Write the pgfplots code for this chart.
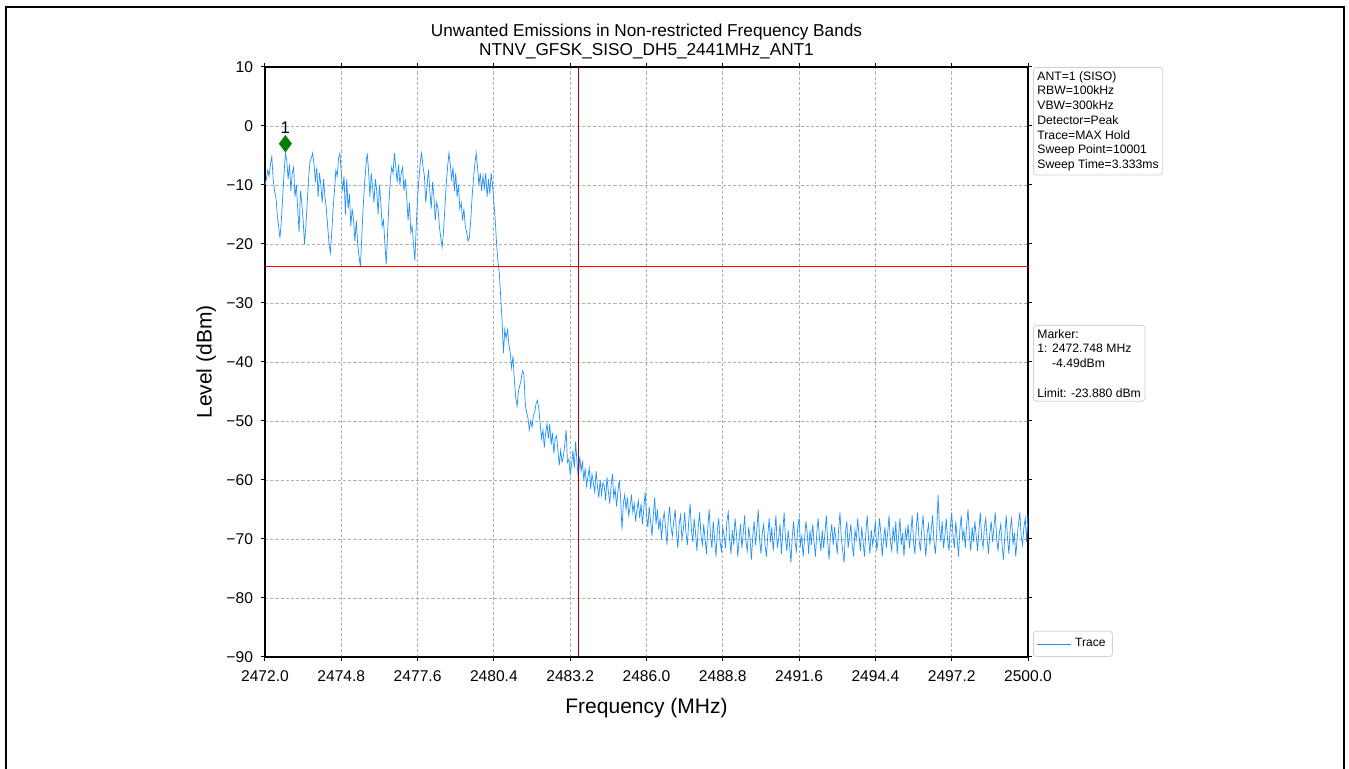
\documentclass[border=0pt]{standalone}
\usepackage{fontspec}
\setmainfont{Liberation Sans}
\usepackage{pgfplots}
\usepackage{pgfplotstable}
\pgfplotsset{compat=1.18}
\definecolor{tracec}{RGB}{30,144,255}
\definecolor{mkgreen}{RGB}{0,128,0}
\definecolor{gridc}{RGB}{176,176,176}

% trace level (dBm), sampled every 0.05 MHz from 2472.00 MHz
\pgfplotstableread[row sep=\\]{
y\\
-10\\ -9\\ -7.5\\ -8.5\\ -6.5\\ -5.2\\ -9\\ -11\\ -12\\ -15\\
-17\\ -19\\ -16\\ -12\\ -8\\ -4.5\\ -6\\ -9\\ -6.5\\ -11\\
-8\\ -7\\ -12\\ -10\\ -14\\ -18\\ -11\\ -13\\ -16\\ -20\\
-17\\ -13\\ -9\\ -6\\ -5.5\\ -4.6\\ -6.5\\ -9.5\\ -7\\ -12\\
-8\\ -10\\ -13\\ -9\\ -12\\ -14\\ -17\\ -20\\ -21.5\\ -18\\
-14\\ -11\\ -7.5\\ -8.5\\ -5.5\\ -4.6\\ -8\\ -11\\ -8.5\\ -15\\
-9\\ -14\\ -11.5\\ -17\\ -14\\ -16\\ -19.5\\ -16\\ -20\\ -22\\
-23.8\\ -19\\ -14\\ -10\\ -7\\ -4.6\\ -7.5\\ -12\\ -8\\ -10.5\\
-13\\ -9\\ -11\\ -15\\ -10\\ -13\\ -17\\ -16\\ -20\\ -23.5\\
-18\\ -13\\ -9\\ -7\\ -8\\ -4.6\\ -7\\ -9.5\\ -6.5\\ -10\\
-8\\ -7\\ -11\\ -9\\ -12\\ -16\\ -13\\ -18\\ -17\\ -20\\
-22.8\\ -17\\ -12\\ -9\\ -6\\ -4.6\\ -7\\ -8.5\\ -13\\ -10\\
-7.5\\ -11\\ -14\\ -9.5\\ -12\\ -16\\ -13\\ -14\\ -17\\ -19\\
-20.5\\ -18\\ -14\\ -10\\ -7\\ -4.6\\ -6.5\\ -9\\ -7\\ -11\\
-8\\ -12\\ -10\\ -14\\ -13\\ -16\\ -14\\ -17\\ -18\\ -19.5\\
-19\\ -16\\ -12\\ -9\\ -6.5\\ -4.6\\ -7\\ -10\\ -8\\ -11\\
-8.5\\ -10.5\\ -8\\ -12\\ -9\\ -11.5\\ -8\\ -10\\ -13\\
-16\\ -20\\ -23\\ -25\\ -29\\ -33\\ -38.5\\ -34.5\\ -36\\ -34.5\\
-37\\ -38.5\\ -41\\ -39\\ -43\\ -46\\ -47.5\\ -45\\ -44\\ -43\\
-41.5\\ -42\\ -47\\ -48.5\\ -49.5\\ -51.5\\ -50\\ -51\\ -49\\ -48.5\\
-47\\ -46.5\\ -48\\ -50.5\\ -53\\ -51.5\\ -54.5\\ -52\\ -50.5\\ -53\\
-50.5\\ -54\\ -52\\ -55.5\\ -53\\ -52.5\\ -55\\ -57.5\\ -55\\ -57\\
-56\\ -54\\ -51.5\\ -57\\ -56.5\\ -59\\ -57.5\\ -55\\ -58\\ -53.5\\
-57\\ -60\\ -56\\ -58.5\\ -57\\ -60\\ -58\\ -61\\ -59.5\\ -58\\
-61.5\\ -59\\ -60.5\\ -62\\ -58.5\\ -61\\ -63\\ -60\\ -62.5\\ -60.5\\
-61\\ -63.5\\ -59.5\\ -62\\ -64\\ -61\\ -59\\ -63\\ -61.5\\ -64.5\\
-62\\ -60\\ -63\\ -68.5\\ -64\\ -62.5\\ -65\\ -63\\ -66\\ -64.5\\
-62.5\\ -65.5\\ -64\\ -67\\ -65\\ -63.5\\ -66.5\\ -64\\ -67.5\\ -65\\
-62\\ -66\\
-68\\ -64.5\\ -67\\ -69.5\\ -66\\ -63\\ -67.5\\ -65\\ -68.5\\ -66.5\\
-70\\ -67\\ -65.5\\ -68\\ -71\\ -66.5\\ -64.5\\ -68\\ -69.5\\ -67\\
-65\\ -69\\ -71.5\\ -67.5\\ -66\\ -70\\ -68.5\\ -65.5\\ -69\\ -71\\
-67\\ -64\\ -68.5\\ -70.5\\ -66.5\\ -69\\ -72\\ -68\\ -65.5\\ -69.5\\
-71\\ -67.5\\ -70\\ -72.5\\ -68\\ -65\\ -69.5\\ -71.5\\ -67\\ -70\\
-73\\ -68.5\\ -66.5\\ -70.5\\ -72\\ -68\\ -69.5\\ -71.5\\ -67\\ -65.5\\
-70\\ -72.5\\ -68.5\\ -71\\ -66.5\\ -69\\ -73\\ -70\\ -67.5\\ -71.5\\
-69\\ -66\\ -70.5\\ -72\\ -68\\ -70\\ -73.5\\ -69.5\\ -67\\ -71\\
-68.5\\ -65\\ -70\\ -72.5\\ -69\\ -67.5\\ -71\\ -73\\ -69.5\\ -66.5\\
-70.5\\ -68\\ -72\\ -69\\ -66\\ -71.5\\ -70\\ -67.5\\ -72.5\\ -69\\
-65.5\\ -70\\ -72\\ -68.5\\ -71\\ -74\\ -69.5\\ -67\\ -70.5\\ -72\\
-68\\ -66.5\\ -71\\ -69.5\\ -73\\ -70\\ -67\\ -69\\ -72.5\\ -68.5\\
-71\\ -67.5\\ -70.5\\ -73\\ -69\\ -66.5\\ -70\\ -72\\ -68.5\\ -71.5\\
-69\\ -66\\ -70.5\\ -73.5\\ -69.5\\ -67.5\\ -71\\ -68\\ -70\\ -72.5\\
-68.5\\ -65.5\\ -70\\ -72\\ -74\\ -69\\ -67\\ -71.5\\ -69.5\\ -67.5\\
-71\\ -73\\ -68.5\\ -70\\ -66.5\\ -69.5\\ -72\\ -68\\ -70.5\\ -73\\
-69\\ -66\\ -70\\ -72.5\\ -68.5\\ -71\\ -69.5\\ -67\\ -72\\ -70\\
-66.5\\ -69\\ -73\\ -70\\ -68\\ -71.5\\ -69\\ -66\\ -70.5\\ -72\\
-68\\ -70.5\\ -67\\ -72.5\\ -69.5\\ -66.5\\ -71\\ -69\\ -73\\ -68.5\\
-70\\ -67.5\\ -71.5\\ -69\\ -66\\ -70.5\\ -72.5\\ -68\\ -65.5\\ -70\\
-72\\ -68.5\\ -66\\ -70\\ -73\\ -69\\ -67.5\\ -71\\ -68.5\\ -66\\
-70.5\\ -72.5\\ -69\\ -62.5\\ -68\\ -70.5\\ -67\\ -71.5\\ -69.5\\ -66.5\\
-70\\ -72\\ -68\\ -65.5\\ -69.5\\ -71.5\\ -67\\ -70\\ -73\\ -68.5\\
-66\\ -70\\ -68.5\\ -71.5\\ -67.5\\ -65\\ -69.5\\ -72\\ -68\\ -70.5\\
-67\\ -69.5\\ -72\\ -68.5\\ -65.5\\ -70\\ -71.5\\ -68\\ -66.5\\ -70\\
-72.5\\ -69\\ -67\\ -70.5\\ -68\\ -65.5\\ -70\\ -72\\ -69\\ -67.5\\
-71\\ -73.5\\ -69.5\\ -66\\ -70\\ -72.5\\ -68\\ -66.5\\ -71\\ -69\\
-73\\ -70\\ -67.5\\ -65.5\\ -69.5\\ -71\\ -68\\ -66.5\\ -70.5\\ -66\\
}\trace

\begin{document}
\begin{tikzpicture}
\useasboundingbox (-132.5pt,-56pt) rectangle (542pt,328.5pt);
% outer frame
\draw[line width=1.1pt] (-129.5pt,-70pt) -- (-129.5pt,325pt) -- (539.5pt,325pt) -- (539.5pt,-70pt);
\begin{axis}[
  name=ax,
  at={(0,0)}, anchor=south west,
  scale only axis,
  width=381.5pt, height=295pt,
  xmin=2472, xmax=2500, ymin=-90, ymax=10,
  xtick={2472,2474.8,2477.6,2480.4,2483.2,2486,2488.8,2491.6,2494.4,2497.2,2500},
  xticklabels={2472.0,2474.8,2477.6,2480.4,2483.2,2486.0,2488.8,2491.6,2494.4,2497.2,2500.0},
  ytick={-90,-80,-70,-60,-50,-40,-30,-20,-10,0,10},
  yticklabels={−90,−80,−70,−60,−50,−40,−30,−20,−10,0,10},
  tick align=outside,
  major tick length=2pt,
  tick style={black, line width=0.5pt},
  axis line style={black, line width=0.6pt},
  ticklabel style={font=\fontsize{7.8pt}{9pt}\selectfont},
  xticklabel style={yshift=-1.5pt},
  yticklabel style={xshift=-0.5pt},
  /pgf/number format/assume math mode=true,
  grid=major,
  major grid style={gridc, line width=0.4pt, dash pattern=on 1.6pt off 1pt},
  xlabel={Frequency (MHz)},
  ylabel={Level (dBm)},
  xlabel style={at={(axis description cs:0.5,-0.087)}, anchor=center, font=\fontsize{10.5pt}{12pt}\selectfont},
  ylabel style={at={(axis description cs:-0.077,0.5)}, anchor=center, rotate=0, font=\fontsize{10.5pt}{12pt}\selectfont},
  title={Unwanted Emissions in Non-restricted Frequency Bands\\NTNV\_GFSK\_SISO\_DH5\_2441MHz\_ANT1},
  title style={at={(axis description cs:0.5,1.023)}, anchor=center, align=center, font=\fontsize{8.6pt}{9.2pt}\selectfont},
  legend style={at={(rel axis cs:1,0)}, anchor=south west, xshift=2.5pt,
    draw=gray!35, rounded corners=1.5pt, inner sep=1.5pt,
    font=\fontsize{6pt}{7pt}\selectfont, cells={anchor=west}},
  legend cell align=left,
  clip=false,
]
\addplot[tracec, line width=0.35pt] table[x expr={2472+0.05*\coordindex}, y=y]{\trace};
\addlegendentry{Trace}
\addplot[red, line width=0.6pt, forget plot] coordinates {(2472,-23.88) (2500,-23.88)};
\addplot[red!70!black, line width=0.3pt, forget plot] coordinates {(2483.5,-90) (2483.5,10)};
\addplot[only marks, mark=diamond*, mark size=4pt, mkgreen, forget plot] coordinates {(2472.748,-3)};
\node[font=\fontsize{8.4pt}{9pt}\selectfont] at (axis cs:2472.748,-0.3) {1};
\end{axis}
\node[anchor=north west, draw=gray!35, rounded corners=1.5pt, inner sep=2pt, align=left,
  font=\fontsize{6.1pt}{7.35pt}\selectfont] at ([xshift=2.5pt]ax.north east)
  {ANT=1 (SISO)\\RBW=100kHz\\VBW=300kHz\\Detector=Peak\\Trace=MAX Hold\\Sweep Point=10001\\Sweep Time=3.333ms};
\node[anchor=north west, draw=gray!35, rounded corners=1.5pt, inner sep=2pt, align=left,
  font=\fontsize{6.1pt}{7.35pt}\selectfont] at ([xshift=2.5pt,yshift=-129pt]ax.north east)
  {Marker:\\1: 2472.748 MHz\\\hspace*{1.2em}-4.49dBm\\\mbox{}\\Limit: -23.880 dBm};
\end{tikzpicture}
\end{document}
